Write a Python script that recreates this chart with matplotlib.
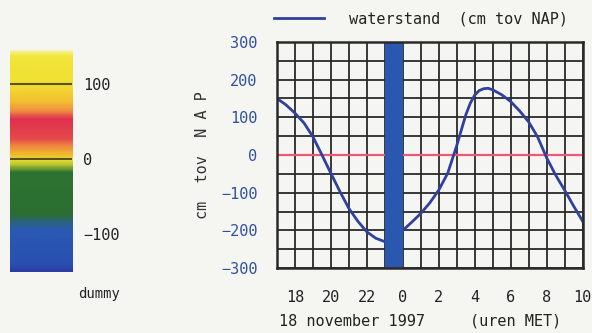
import numpy as np
import matplotlib
matplotlib.use("Agg")
import matplotlib.pyplot as plt
from matplotlib.colors import LinearSegmentedColormap

# waterstand, hours since 0:00 on 18 november (24 = midnight)
hours = [17, 17.5, 18, 18.5, 19, 19.5, 20, 20.5, 21, 21.5, 22, 22.5, 23, 23.5,
         24, 24.5, 25, 25.5, 26, 26.5, 27, 27.5, 27.75, 28, 28.25, 28.5, 28.75,
         29, 29.5, 30, 30.5, 31, 31.5, 32, 32.5, 33, 33.5, 34]
level = [150, 133, 111, 85, 48, 0, -49, -97, -142, -176, -204, -221, -230, -220,
         -200, -178, -155, -127, -93, -48, 25, 106, 137, 159, 171, 176, 177,
         173, 160, 142, 117, 88, 48, -7, -53, -93, -135, -175]

now_start, now_end = 23, 24
xticks = [18, 20, 22, 24, 26, 28, 30, 32, 34]
xticklabels = ["18", "20", "22", "0", "2", "4", "6", "8", "10"]
yticks = [-300, -200, -100, 0, 100, 200, 300]

# colour scale on the left
cbar_vals = [-150, -141, -95, -82, -75, -18, -9, -2, 8, 18, 26, 53, 64, 77, 100, 137, 145]
cbar_cols = ["#2a3ca6", "#2a4fb0", "#2a5ab4", "#2a6670", "#2c6e32", "#2e7430", "#a8bc30",
             "#e8e030", "#f0b030", "#f08040", "#e44a4a", "#e03050", "#f09040", "#f5c030",
             "#f0e030", "#f2e63c", "#f8f2b8"]
cbar_ticks = [-100, 0, 100]

bg = "#f5f5f2"
mono = "DejaVu Sans Mono"
plt.rcParams["font.family"] = mono
plt.rcParams["font.size"] = 11

fig = plt.figure(figsize=(5.92, 3.33), dpi=100, facecolor=bg)

# ---- main chart
ax = fig.add_axes([0.468, 0.195, 0.516, 0.679], facecolor=bg)
ax.set_xlim(17, 34)
ax.set_ylim(-300, 300)
ax.set_xticks(xticks)
ax.set_xticklabels(xticklabels)
ax.set_xticks(np.arange(17, 35, 1), minor=True)
ax.set_yticks(yticks)
ax.set_yticks(np.arange(-300, 301, 50), minor=True)
ax.grid(True, which="both", color="#2a2a2a", lw=1.3, zorder=1)
ax.tick_params(which="both", length=0)
ax.tick_params(axis="x", pad=16, labelcolor="#222222")
ax.tick_params(axis="y", pad=14, labelcolor="#3050a0")
for s in ax.spines.values():
    s.set_linewidth(1.8)
    s.set_color("#2a2a2a")
    s.set_zorder(6)
ax.set_axisbelow(True)

ax.axhline(0, color="#ec5a78", lw=1.6, zorder=2)
ax.plot(hours, level, color="#3040a0", lw=2.0, solid_joinstyle="round",
        label="waterstand  (cm tov NAP)", zorder=3)
ax.axvspan(now_start, now_end, color="#2a58b0", zorder=4, lw=0)

ax.set_ylabel("cm  tov  N A P", color="#333333", labelpad=8)
leg = ax.legend(loc="lower left", bbox_to_anchor=(-0.01, 1.07), frameon=False,
                handlelength=3.3, handletextpad=1.6, borderaxespad=0, borderpad=0)
for t in leg.get_texts():
    t.set_color("#222222")

ax.text(0.005, -0.235, "18 november 1997", transform=ax.transAxes, color="#222222",
        ha="left", va="center")
ax.text(0.63, -0.235, "(uren MET)", transform=ax.transAxes, color="#222222",
        ha="left", va="center")

# ---- colour bar
cax = fig.add_axes([0.017, 0.183, 0.105, 0.667], facecolor=bg)
lo, hi = cbar_vals[0], cbar_vals[-1]
pos = [(v - lo) / (hi - lo) for v in cbar_vals]
cmap = LinearSegmentedColormap.from_list("wl", list(zip(pos, cbar_cols)))
grad = np.linspace(lo, hi, 300).reshape(-1, 1)
cax.imshow(grad, aspect="auto", cmap=cmap, origin="lower",
           extent=[0, 1, lo, hi], vmin=lo, vmax=hi)
cax.set_xlim(0, 1)
cax.set_ylim(lo, hi)
for v in cbar_ticks[1:]:
    cax.axhline(v, color="#5a5020", lw=1.5)
cax.set_xticks([])
cax.set_yticks(cbar_ticks)
cax.yaxis.tick_right()
cax.tick_params(axis="y", length=0, pad=8, labelcolor="#222222")
for s in cax.spines.values():
    s.set_visible(False)
cax.text(1.1, -0.1, "dummy", transform=cax.transAxes, ha="left", va="center",
         color="#222222", fontsize=10)

fig.savefig("out.png", dpi=100, facecolor=bg)
